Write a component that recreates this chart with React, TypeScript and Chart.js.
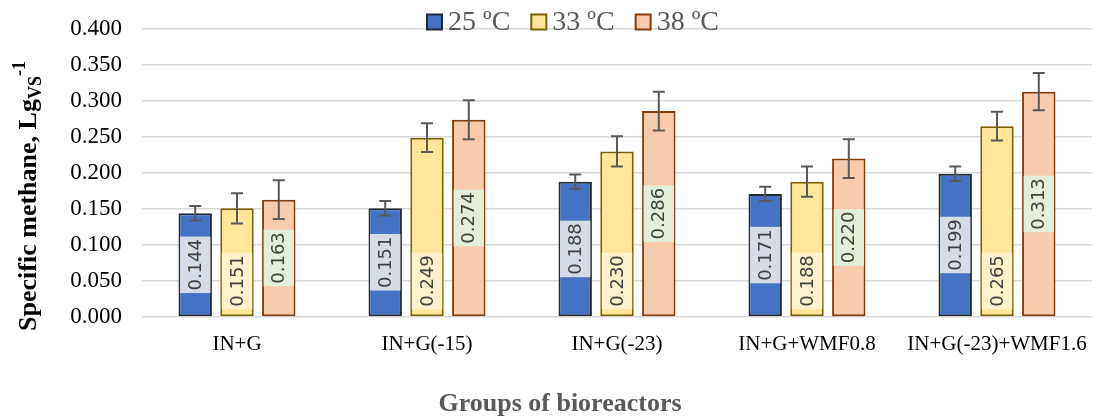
import React, { useEffect, useRef } from "react";
import { Chart, registerables } from "chart.js";

Chart.register(...registerables);

const categories = ["IN+G", "IN+G(-15)", "IN+G(-23)", "IN+G+WMF0.8", "IN+G(-23)+WMF1.6"];
const seriesNames = ["25 ºC", "33 ºC", "38 ºC"];
const values25 = [0.144, 0.151, 0.188, 0.171, 0.199];
const values33 = [0.151, 0.249, 0.23, 0.188, 0.265];
const values38 = [0.163, 0.274, 0.286, 0.22, 0.313];
const err25 = [0.01, 0.01, 0.01, 0.01, 0.01];
const err33 = [0.021, 0.02, 0.021, 0.021, 0.02];
const err38 = [0.027, 0.027, 0.027, 0.027, 0.026];

const fills = ["#4472C4", "#FFE699", "#F8CBAD"];
const borders = ["#222A35", "#7F6000", "#843C0C"];
const labelBoxes = ["#D6DCE5", "#FFF2CC", "#E2F0D9"];
const labelAnchor = ["center", "base", "center"];
const errors = [err25, err33, err38];

const SERIF = "'Liberation Serif', 'Times New Roman', serif";

const overlayPlugin = {
  id: "overlay",
  afterDatasetsDraw(chart: any) {
    const ctx = chart.ctx;
    const yScale = chart.scales.y;
    chart.data.datasets.forEach((ds: any, di: number) => {
      const meta = chart.getDatasetMeta(di);
      meta.data.forEach((bar: any, i: number) => {
        const v = ds.data[i];
        const txt = v.toFixed(3);
        ctx.save();
        ctx.font = "18px 'DejaVu Sans', sans-serif";
        const tw = ctx.measureText(txt).width;
        const boxH = tw + 5;
        const boxW = bar.width - 3;
        let cy: number;
        if (labelAnchor[di] === "base") {
          cy = bar.base - 7 - boxH / 2;
        } else {
          cy = (bar.y + bar.base) / 2;
        }
        ctx.fillStyle = labelBoxes[di];
        ctx.fillRect(bar.x - boxW / 2, cy - boxH / 2, boxW, boxH);
        ctx.translate(bar.x, cy);
        ctx.rotate(-Math.PI / 2);
        ctx.fillStyle = "#404040";
        ctx.textAlign = "center";
        ctx.textBaseline = "middle";
        ctx.fillText(txt, 0, 1);
        ctx.restore();
      });
    });
    chart.data.datasets.forEach((ds: any, di: number) => {
      const meta = chart.getDatasetMeta(di);
      meta.data.forEach((bar: any, i: number) => {
        const v = ds.data[i];
        const e = errors[di][i];
        const yt = yScale.getPixelForValue(v + e);
        const yb = yScale.getPixelForValue(v - e);
        ctx.save();
        ctx.strokeStyle = "#595959";
        ctx.lineWidth = 2;
        ctx.beginPath();
        ctx.moveTo(bar.x, yt);
        ctx.lineTo(bar.x, yb);
        ctx.moveTo(bar.x - 6, yt);
        ctx.lineTo(bar.x + 6, yt);
        ctx.moveTo(bar.x - 6, yb);
        ctx.lineTo(bar.x + 6, yb);
        ctx.stroke();
        ctx.restore();
      });
    });
  },
  afterDraw(chart: any) {
    const ctx = chart.ctx;
    ctx.save();
    ctx.font = "28px " + SERIF;
    const sq = 15;
    const gapText = 6;
    const gapItem = 21;
    const widths = seriesNames.map((n) => ctx.measureText(n).width);
    const total = widths.reduce((a, w) => a + sq + gapText + w, 0) + gapItem * (seriesNames.length - 1);
    let x = 573 - total / 2;
    const cy = 22;
    seriesNames.forEach((n, i) => {
      ctx.fillStyle = fills[i];
      ctx.fillRect(x, cy - sq / 2, sq, sq);
      ctx.strokeStyle = borders[i];
      ctx.lineWidth = 2;
      ctx.strokeRect(x, cy - sq / 2, sq, sq);
      ctx.fillStyle = "#595959";
      ctx.textAlign = "left";
      ctx.textBaseline = "middle";
      ctx.fillText(n, x + sq + gapText, cy + 1);
      x += sq + gapText + widths[i] + gapItem;
    });
    ctx.restore();

    ctx.save();
    ctx.font = "bold 26px " + SERIF;
    ctx.fillStyle = "#595959";
    ctx.textAlign = "center";
    ctx.textBaseline = "middle";
    ctx.fillText("Groups of bioreactors", 560, 404);
    ctx.restore();

    ctx.save();
    ctx.translate(36, 196);
    ctx.rotate(-Math.PI / 2);
    ctx.fillStyle = "#000";
    ctx.textBaseline = "alphabetic";
    ctx.textAlign = "left";
    const mainFont = "bold 26px " + SERIF;
    const smallFont = "bold 18px " + SERIF;
    const main = "Specific methane, Lg";
    const sub = "VS";
    const sup = "-1";
    ctx.font = mainFont;
    const wMain = ctx.measureText(main).width;
    ctx.font = smallFont;
    const wSub = ctx.measureText(sub).width;
    const wSup = ctx.measureText(sup).width;
    const tot = wMain + wSub + wSup;
    let sx = -tot / 2;
    ctx.font = mainFont;
    ctx.fillText(main, sx, 0);
    sx += wMain;
    ctx.font = smallFont;
    ctx.fillText(sub, sx, 5);
    sx += wSub;
    ctx.fillText(sup, sx, -11);
    ctx.restore();
  },
};

export default function App() {
  const ref = useRef<HTMLCanvasElement | null>(null);
  useEffect(() => {
    if (!ref.current) return;
    const seriesValues = [values25, values33, values38];
    const chart = new Chart(ref.current, {
      type: "bar",
      data: {
        labels: categories,
        datasets: seriesNames.map((n, i) => ({
          label: n,
          data: seriesValues[i],
          backgroundColor: fills[i],
          borderColor: borders[i],
          borderWidth: 2,
          borderSkipped: false,
          categoryPercentage: 0.66,
          barPercentage: 0.8,
        })),
      },
      options: {
        animation: false,
        responsive: true,
        maintainAspectRatio: false,
        layout: { padding: { top: 29, left: 0, right: 2, bottom: 0 } },
        plugins: {
          legend: { display: false },
          tooltip: { enabled: false },
          title: { display: false },
        },
        scales: {
          x: {
            grid: { display: false, drawTicks: false },
            border: { display: false },
            ticks: {
              color: "#000",
              font: { family: SERIF, size: 21 },
              padding: 15,
              maxRotation: 0,
              autoSkip: false,
            },
            afterFit: (scale: any) => {
              scale.height = 102;
              scale.paddingLeft = 0;
              scale.paddingRight = 0;
            },
          },
          y: {
            min: 0,
            max: 0.4,
            grid: { color: "#D9D9D9", lineWidth: 1.5, drawTicks: false },
            border: { display: false },
            ticks: {
              stepSize: 0.05,
              color: "#000",
              font: { family: SERIF, size: 23 },
              padding: 20,
              callback: (v: any) => Number(v).toFixed(3),
            },
            afterFit: (scale: any) => {
              scale.width = 142;
              scale.paddingTop = 0;
              scale.paddingBottom = 0;
            },
          },
        },
      },
      plugins: [overlayPlugin],
    });
    return () => chart.destroy();
  }, []);
  return (
    <div style={{ position: "fixed", left: 0, top: 0, width: 1094, height: 419, background: "#fff" }}>
      <canvas ref={ref} />
    </div>
  );
}
